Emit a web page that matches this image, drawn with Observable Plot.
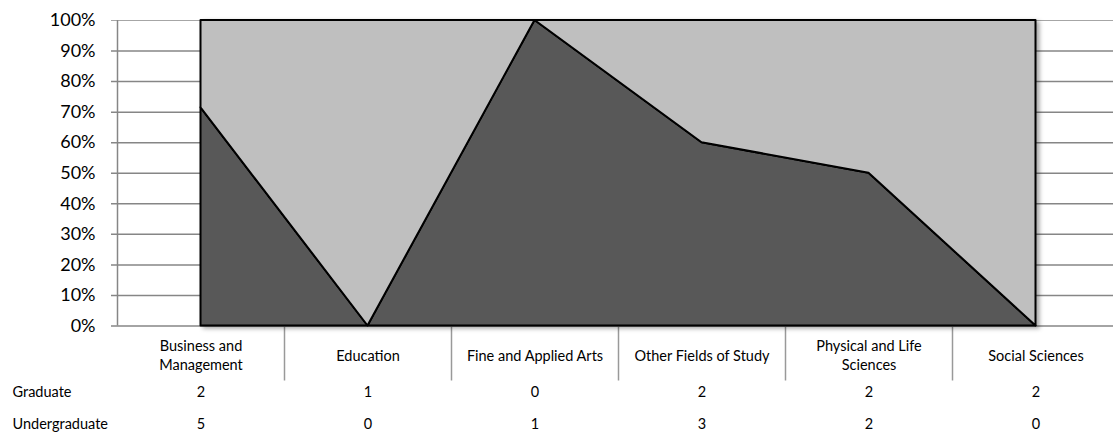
<!DOCTYPE html>
<html><head><meta charset="utf-8">
<script src="https://cdn.jsdelivr.net/npm/d3@7"></script>
<script src="https://cdn.jsdelivr.net/npm/@observablehq/plot@0.6"></script>
<style>
body{margin:0;background:#fff;overflow:hidden}
svg{display:block}
</style>
</head><body><div id="chart"></div>
<script>
const categories = ["Business and Management","Education","Fine and Applied Arts","Other Fields of Study","Physical and Life Sciences","Social Sciences"];
const categoryLabels = ["Business and\nManagement","Education","Fine and Applied Arts","Other Fields of Study","Physical and Life\nSciences","Social Sciences"];
const graduate = [2,1,0,2,2,2];
const undergraduate = [5,0,1,3,2,0];
const seriesNames = ["Undergraduate","Graduate"];
const seriesColors = ["#595959","#BFBFBF"];
const yTicks = [0,0.1,0.2,0.3,0.4,0.5,0.6,0.7,0.8,0.9,1];

const idx = categories.map((c,i)=>i);
const rows = categories.flatMap((c,i)=>[
  {idx:i, category:c, series:"Undergraduate", value:undergraduate[i]},
  {idx:i, category:c, series:"Graduate", value:graduate[i]}
]);
const table = categories.map((c,i)=>({idx:i, category:c, graduate:graduate[i], undergraduate:undergraduate[i]}));
const separators = idx.slice(1).map(i=>i-0.5);

const font = "Lato, 'Open Sans', sans-serif";
const smallSize = 14.5;

const chart = Plot.plot({
  width: 1113,
  height: 439,
  marginTop: 20,
  marginBottom: 113.5,
  marginLeft: 117,
  marginRight: -6,
  style: {fontFamily: font, color: "#000", background: "#fff"},
  x: {type: "linear", domain: [-0.5, idx.length - 0.5], axis: null},
  y: {domain: [0, 1], axis: null},
  color: {domain: seriesNames, range: seriesColors},
  marks: [
    Plot.ruleY(yTicks.filter(d=>d<1), {y: d=>d, stroke: "#868686", strokeWidth: 1.5, insetLeft: -6}),
    Plot.ruleY([1], {stroke: "#a6a6a6", strokeWidth: 1, insetLeft: -6}),
    Plot.ruleX([-0.5], {stroke: "#868686", strokeWidth: 1.5}),
    Plot.ruleX(separators, {x: d=>d, y1: 0, y2: 0, stroke: "#999", strokeWidth: 1.5, insetBottom: -55}),
    Plot.areaY(rows, Plot.stackY({offset: "normalize", order: seriesNames}, {
      x: "idx", y: "value", z: "series", fill: "series", stroke: "#000", strokeWidth: 2, strokeLinejoin: "round"
    })),
    Plot.axisY({ticks: yTicks, tickFormat: d3.format(".0%"), tickSize: 0, tickPadding: 22, fontSize: 18, label: null}),
    Plot.axisX({ticks: idx, tickFormat: i => categoryLabels[i], tickSize: 0, tickPadding: 28.5, lineAnchor: "middle", lineHeight: 1.3, fontSize: smallSize, label: null}),
    Plot.text(table, {x: "idx", text: "graduate", frameAnchor: "bottom", dy: 71, fontSize: smallSize}),
    Plot.text(table, {x: "idx", text: "undergraduate", frameAnchor: "bottom", dy: 102.5, fontSize: smallSize}),
    Plot.text(["Graduate"], {text: d=>d, frameAnchor: "bottom-left", textAnchor: "start", dx: -105, dy: 71, fontSize: smallSize}),
    Plot.text(["Undergraduate"], {text: d=>d, frameAnchor: "bottom-left", textAnchor: "start", dx: -105, dy: 102.5, fontSize: smallSize})
  ]
});

const svg = d3.select(chart);
const defs = svg.insert("defs", ":first-child");
defs.append("filter").attr("id", "shadow").attr("x", "-5%").attr("y", "-5%").attr("width", "110%").attr("height", "110%")
  .append("feDropShadow").attr("dx", 3).attr("dy", 2).attr("stdDeviation", 2).attr("flood-color", "#000").attr("flood-opacity", 0.35);
svg.selectAll("g[aria-label='area']").attr("filter", "url(#shadow)");

document.getElementById("chart").appendChild(chart);
</script>
</body></html>
